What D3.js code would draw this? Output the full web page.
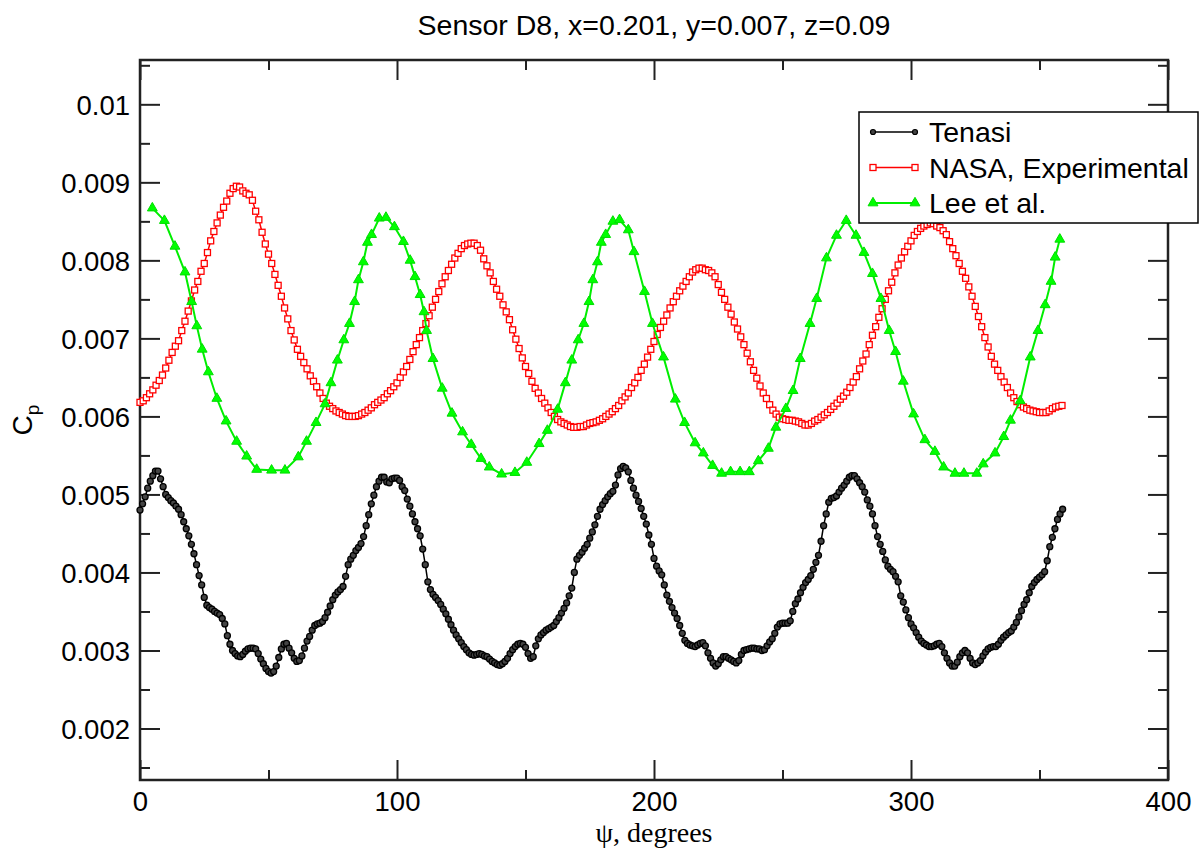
<!DOCTYPE html>
<html><head><meta charset="utf-8">
<script src="https://cdn.jsdelivr.net/npm/d3@7/dist/d3.min.js"></script>
<style>
html,body{margin:0;padding:0;background:#fff;}
svg{display:block;}
</style></head>
<body>
<script>
// ---------------- DATA ----------------
const chartTitle = "Sensor D8, x=0.201, y=0.007, z=0.09";
const xLabel = "\u03C8, degrees";
const seriesNames = ["Tenasi", "NASA, Experimental", "Lee et al."];

const xMajorTicks = [0, 100, 200, 300, 400];
const xMajorLabels = ["0", "100", "200", "300", "400"];
const xMinorTicks = [50, 150, 250, 350];
const yMajorTicks = [0.002, 0.003, 0.004, 0.005, 0.006, 0.007, 0.008, 0.009, 0.01];
const yMajorLabels = ["0.002", "0.003", "0.004", "0.005", "0.006", "0.007", "0.008", "0.009", "0.01"];
const yMinorTicks = [0.0015, 0.0025, 0.0035, 0.0045, 0.0055, 0.0065, 0.0075, 0.0085, 0.0095, 0.0105];

// Tenasi: sampled every 1 degree starting at 0
const tenasiStart = 0, tenasiStep = 1;
const tenasiCp = [
0.00480,0.00488,0.00497,0.00508,0.00517,0.00524,0.00530,0.00530,0.00520,0.00510,
0.00500,0.00496,0.00492,0.00489,0.00485,0.00481,0.00474,0.00465,0.00456,0.00447,
0.00436,0.00424,0.00410,0.00396,0.00384,0.00368,0.00358,0.00355,0.00353,0.00350,
0.00348,0.00346,0.00341,0.00334,0.00319,0.00308,0.00300,0.00296,0.00293,0.00292,
0.00295,0.00299,0.00302,0.00303,0.00303,0.00302,0.00296,0.00289,0.00283,0.00277,
0.00273,0.00271,0.00273,0.00280,0.00291,0.00302,0.00308,0.00309,0.00303,0.00297,
0.00290,0.00286,0.00287,0.00293,0.00303,0.00312,0.00318,0.00326,0.00332,0.00334,
0.00335,0.00337,0.00342,0.00349,0.00357,0.00365,0.00371,0.00375,0.00378,0.00382,
0.00395,0.00410,0.00417,0.00422,0.00428,0.00432,0.00437,0.00446,0.00460,0.00474,
0.00488,0.00499,0.00510,0.00517,0.00522,0.00522,0.00516,0.00515,0.00520,0.00521,
0.00521,0.00518,0.00510,0.00505,0.00494,0.00485,0.00475,0.00465,0.00456,0.00447,
0.00430,0.00410,0.00388,0.00378,0.00372,0.00368,0.00364,0.00359,0.00353,0.00347,
0.00340,0.00333,0.00326,0.00320,0.00315,0.00310,0.00305,0.00301,0.00297,0.00295,
0.00294,0.00295,0.00296,0.00295,0.00293,0.00292,0.00289,0.00286,0.00284,0.00282,
0.00281,0.00283,0.00286,0.00290,0.00296,0.00301,0.00305,0.00308,0.00309,0.00308,
0.00304,0.00296,0.00290,0.00292,0.00306,0.00315,0.00320,0.00323,0.00326,0.00328,
0.00330,0.00332,0.00337,0.00342,0.00348,0.00354,0.00361,0.00370,0.00380,0.00400,
0.00417,0.00422,0.00426,0.00431,0.00436,0.00444,0.00452,0.00461,0.00472,0.00481,
0.00487,0.00492,0.00497,0.00501,0.00504,0.00512,0.00525,0.00533,0.00536,0.00534,
0.00529,0.00518,0.00508,0.00499,0.00491,0.00482,0.00472,0.00462,0.00448,0.00436,
0.00418,0.00408,0.00402,0.00397,0.00384,0.00371,0.00363,0.00355,0.00348,0.00341,
0.00332,0.00322,0.00313,0.00309,0.00307,0.00306,0.00305,0.00307,0.00309,0.00310,
0.00306,0.00297,0.00290,0.00284,0.00280,0.00283,0.00288,0.00292,0.00292,0.00290,
0.00288,0.00286,0.00284,0.00287,0.00295,0.00300,0.00301,0.00302,0.00303,0.00303,
0.00302,0.00302,0.00300,0.00301,0.00306,0.00311,0.00315,0.00322,0.00330,0.00334,
0.00335,0.00335,0.00335,0.00338,0.00350,0.00360,0.00366,0.00374,0.00381,0.00387,
0.00391,0.00396,0.00404,0.00413,0.00422,0.00440,0.00460,0.00475,0.00490,0.00495,
0.00496,0.00498,0.00503,0.00508,0.00512,0.00517,0.00522,0.00524,0.00524,0.00520,
0.00515,0.00510,0.00503,0.00493,0.00485,0.00475,0.00460,0.00446,0.00436,0.00427,
0.00416,0.00408,0.00404,0.00401,0.00395,0.00388,0.00370,0.00362,0.00352,0.00342,
0.00334,0.00329,0.00323,0.00317,0.00312,0.00309,0.00307,0.00305,0.00305,0.00306,
0.00308,0.00309,0.00305,0.00297,0.00290,0.00284,0.00280,0.00280,0.00285,0.00292,
0.00297,0.00300,0.00297,0.00290,0.00284,0.00282,0.00284,0.00287,0.00293,0.00298,
0.00302,0.00304,0.00305,0.00305,0.00308,0.00313,0.00317,0.00320,0.00323,0.00325,
0.00330,0.00336,0.00343,0.00351,0.00359,0.00365,0.00374,0.00382,0.00387,0.00391,
0.00394,0.00397,0.00401,0.00415,0.00433,0.00445,0.00456,0.00468,0.00475,0.00481
];

// NASA experimental: sampled every 1.25 degrees starting at 0
const nasaStart = 0, nasaStep = 1.25;
const nasaCp = [
0.00618,0.00620,0.00624,0.00629,0.00634,0.00640,0.00646,0.00653,0.00662,0.00672,
0.00682,0.00690,0.00697,0.00710,0.00722,0.00735,0.00748,0.00762,0.00773,0.00786,
0.00796,0.00810,0.00825,0.00837,0.00848,0.00858,0.00868,0.00876,0.00886,0.00892,
0.00895,0.00894,0.00889,0.00886,0.00884,0.00877,0.00863,0.00852,0.00836,0.00821,
0.00808,0.00796,0.00782,0.00768,0.00754,0.00739,0.00725,0.00710,0.00698,0.00686,
0.00677,0.00669,0.00661,0.00652,0.00645,0.00638,0.00630,0.00623,0.00617,0.00613,
0.00610,0.00607,0.00605,0.00603,0.00601,0.00600,0.00600,0.00600,0.00601,0.00603,
0.00605,0.00608,0.00611,0.00615,0.00618,0.00621,0.00624,0.00629,0.00633,0.00638,
0.00643,0.00650,0.00657,0.00664,0.00673,0.00683,0.00692,0.00701,0.00710,0.00719,
0.00729,0.00740,0.00750,0.00760,0.00770,0.00779,0.00787,0.00795,0.00803,0.00809,
0.00815,0.00819,0.00821,0.00822,0.00822,0.00819,0.00813,0.00802,0.00793,0.00784,
0.00773,0.00763,0.00754,0.00743,0.00734,0.00724,0.00711,0.00699,0.00687,0.00675,
0.00664,0.00655,0.00645,0.00636,0.00630,0.00623,0.00617,0.00611,0.00605,0.00600,
0.00596,0.00593,0.00591,0.00589,0.00587,0.00586,0.00586,0.00587,0.00587,0.00589,
0.00591,0.00592,0.00593,0.00595,0.00597,0.00600,0.00603,0.00606,0.00610,0.00614,
0.00620,0.00625,0.00630,0.00637,0.00643,0.00650,0.00659,0.00667,0.00676,0.00686,
0.00696,0.00705,0.00714,0.00722,0.00730,0.00739,0.00747,0.00754,0.00761,0.00767,
0.00773,0.00779,0.00785,0.00788,0.00790,0.00790,0.00788,0.00787,0.00784,0.00779,
0.00769,0.00759,0.00750,0.00740,0.00731,0.00721,0.00712,0.00702,0.00692,0.00681,
0.00670,0.00659,0.00649,0.00639,0.00630,0.00623,0.00615,0.00608,0.00603,0.00599,
0.00597,0.00596,0.00595,0.00595,0.00594,0.00593,0.00591,0.00589,0.00589,0.00591,
0.00594,0.00596,0.00599,0.00602,0.00605,0.00609,0.00613,0.00617,0.00622,0.00626,
0.00631,0.00637,0.00644,0.00651,0.00661,0.00671,0.00680,0.00692,0.00704,0.00715,
0.00727,0.00738,0.00750,0.00761,0.00772,0.00784,0.00794,0.00803,0.00811,0.00818,
0.00825,0.00832,0.00837,0.00841,0.00844,0.00846,0.00848,0.00847,0.00844,0.00842,
0.00838,0.00833,0.00824,0.00815,0.00806,0.00796,0.00786,0.00777,0.00766,0.00754,
0.00741,0.00728,0.00715,0.00701,0.00689,0.00677,0.00667,0.00659,0.00651,0.00644,
0.00637,0.00630,0.00624,0.00619,0.00615,0.00612,0.00610,0.00608,0.00607,0.00606,
0.00605,0.00605,0.00605,0.00607,0.00610,0.00612,0.00613,0.00614
];

const leeAngle = [
4.8,9.5,13.6,17.5,20.1,22.1,24.2,26.6,29.9,33.5,37.6,41.5,45.4,51.2,56.4,61.6,64.8,68.5,72.0,74.3,
76.8,79.3,81.5,83.5,85.0,86.9,88.5,90.1,93.1,95.7,99.0,102.5,105.1,107.0,109.0,110.5,111.5,114.0,117.6,121.4,
125.5,128.9,132.7,135.9,140.7,145.9,150.5,155.3,158.5,162.5,165.5,168.0,170.5,172.7,174.7,176.2,178.0,179.5,181.2,184.0,
186.6,190.0,192.2,196.3,199.4,203.7,208.3,211.9,216.0,219.2,222.8,226.3,229.8,233.5,237.1,240.6,244.5,247.4,251.3,254.1,
256.9,260.7,263.3,267.1,271.0,274.8,278.6,281.7,285.0,288.3,291.5,294.0,297.0,301.0,305.4,309.3,312.7,317.1,320.6,325.6,
328.1,332.7,336.1,338.7,342.5,346.4,349.4,352.2,354.5,356.1,357.9
];
const leeCp = [
0.00867,0.00851,0.00818,0.00785,0.00747,0.00716,0.00686,0.00657,0.00623,0.00594,0.00568,0.00549,0.00532,0.00531,0.00531,0.00548,0.00568,0.00592,0.00616,0.00643,
0.00672,0.00698,0.00719,0.00747,0.00775,0.00798,0.00823,0.00833,0.00854,0.00855,0.00843,0.00824,0.00800,0.00779,0.00756,0.00734,0.00710,0.00674,0.00636,0.00604,
0.00580,0.00564,0.00546,0.00535,0.00526,0.00528,0.00541,0.00565,0.00582,0.00609,0.00643,0.00672,0.00698,0.00719,0.00747,0.00775,0.00798,0.00823,0.00833,0.00850,
0.00852,0.00839,0.00811,0.00760,0.00719,0.00676,0.00622,0.00592,0.00566,0.00553,0.00537,0.00527,0.00529,0.00529,0.00529,0.00543,0.00559,0.00586,0.00610,0.00633,
0.00674,0.00719,0.00751,0.00803,0.00832,0.00851,0.00832,0.00810,0.00783,0.00751,0.00710,0.00683,0.00645,0.00603,0.00570,0.00555,0.00535,0.00527,0.00527,0.00527,
0.00539,0.00553,0.00574,0.00595,0.00620,0.00676,0.00710,0.00743,0.00773,0.00804,0.00827
];

// ---------------- LAYOUT ----------------
const W = 1201, H = 850;
const m = {left: 140, right: 1168, top: 60, bottom: 780};

const svg = d3.select("body").append("svg").attr("width", W).attr("height", H);

const x = d3.scaleLinear().domain([0, 400]).range([m.left, m.right]);
const y = d3.scaleLinear().domain([0.00134, 0.010568]).range([m.bottom, m.top]);

const tickFont = "'Liberation Sans', Arial, Helvetica, sans-serif";
const axisColor = "#222";

function styleAxis(g) {
  g.select(".domain").remove();
  g.selectAll(".tick line").attr("stroke", axisColor).attr("stroke-width", 2);
  g.selectAll(".tick text").attr("font-family", tickFont).attr("font-size", 27.5).attr("fill", "#000");
}

// Left axis (major with labels)
svg.append("g").attr("transform", `translate(${m.left},0)`)
  .call(d3.axisLeft(y).tickValues(yMajorTicks).tickSize(-20).tickPadding(10)
    .tickFormat((d, i) => yMajorLabels[i]))
  .call(styleAxis)
  .selectAll(".tick text").attr("dy", "0.36em");
svg.append("g").attr("transform", `translate(${m.left},0)`)
  .call(d3.axisLeft(y).tickValues(yMinorTicks).tickSize(-10).tickFormat(""))
  .call(styleAxis);
// Right axis
svg.append("g").attr("transform", `translate(${m.right},0)`)
  .call(d3.axisRight(y).tickValues(yMajorTicks).tickSize(-20).tickFormat(""))
  .call(styleAxis);
svg.append("g").attr("transform", `translate(${m.right},0)`)
  .call(d3.axisRight(y).tickValues(yMinorTicks).tickSize(-10).tickFormat(""))
  .call(styleAxis);
// Bottom axis
svg.append("g").attr("transform", `translate(0,${m.bottom})`)
  .call(d3.axisBottom(x).tickValues(xMajorTicks).tickSize(-20).tickPadding(10)
    .tickFormat((d, i) => xMajorLabels[i]))
  .call(styleAxis)
  .selectAll(".tick text").attr("y", 11).attr("dy", "0.71em");
svg.append("g").attr("transform", `translate(0,${m.bottom})`)
  .call(d3.axisBottom(x).tickValues(xMinorTicks).tickSize(-10).tickFormat(""))
  .call(styleAxis);
// Top axis
svg.append("g").attr("transform", `translate(0,${m.top})`)
  .call(d3.axisTop(x).tickValues(xMajorTicks).tickSize(-20).tickFormat(""))
  .call(styleAxis);
svg.append("g").attr("transform", `translate(0,${m.top})`)
  .call(d3.axisTop(x).tickValues(xMinorTicks).tickSize(-10).tickFormat(""))
  .call(styleAxis);

// Frame
svg.append("rect").attr("x", m.left).attr("y", m.top)
  .attr("width", m.right - m.left).attr("height", m.bottom - m.top)
  .attr("fill", "none").attr("stroke", axisColor).attr("stroke-width", 2.5);

// ---------------- SERIES ----------------
const tenasi = tenasiCp.map((v, i) => ({a: tenasiStart + i * tenasiStep, v}));
const nasa = nasaCp.map((v, i) => ({a: nasaStart + i * nasaStep, v}));
const lee = leeCp.map((v, i) => ({a: leeAngle[i], v}));

const line = d3.line().x(d => x(d.a)).y(d => y(d.v));

const plot = svg.append("g");

// Tenasi
plot.append("path").datum(tenasi).attr("d", line)
  .attr("fill", "none").attr("stroke", "#000").attr("stroke-width", 1.5);
plot.append("g").selectAll("circle").data(tenasi).join("circle")
  .attr("cx", d => x(d.a)).attr("cy", d => y(d.v)).attr("r", 3)
  .attr("fill", "#444").attr("stroke", "#000").attr("stroke-width", 1.3);

// NASA
plot.append("path").datum(nasa).attr("d", line)
  .attr("fill", "none").attr("stroke", "#ff0000").attr("stroke-width", 1.5);
plot.append("g").selectAll("rect").data(nasa).join("rect")
  .attr("x", d => x(d.a) - 3).attr("y", d => y(d.v) - 3)
  .attr("width", 6).attr("height", 6)
  .attr("fill", "#fff").attr("stroke", "#ff0000").attr("stroke-width", 1.3);

// Lee
const tri = d3.symbol().type(d3.symbolTriangle).size(42);
plot.append("path").datum(lee).attr("d", line)
  .attr("fill", "none").attr("stroke", "#00ee00").attr("stroke-width", 2);
plot.append("g").selectAll("path").data(lee).join("path")
  .attr("d", tri).attr("transform", d => `translate(${x(d.a)},${y(d.v)})`)
  .attr("fill", "#00ff00").attr("stroke", "#00dd00").attr("stroke-width", 1);

// ---------------- LEGEND ----------------
const lg = svg.append("g");
lg.append("rect").attr("x", 859).attr("y", 112).attr("width", 339).attr("height", 111)
  .attr("fill", "#fff").attr("stroke", "#000").attr("stroke-width", 1.5);
const rows = [132, 167.5, 203];
const lx1 = 873, lx2 = 915;
seriesNames.forEach((name, i) => {
  const yy = rows[i];
  const col = i === 0 ? "#000" : (i === 1 ? "#ff0000" : "#00ee00");
  lg.append("line").attr("x1", lx1).attr("x2", lx2).attr("y1", yy).attr("y2", yy)
    .attr("stroke", col).attr("stroke-width", i === 2 ? 2 : 1.5);
  [lx1, lx2].forEach(px => {
    if (i === 0) lg.append("circle").attr("cx", px).attr("cy", yy).attr("r", 2.5)
      .attr("fill", "#444").attr("stroke", "#000").attr("stroke-width", 1.2);
    else if (i === 1) lg.append("rect").attr("x", px - 3).attr("y", yy - 3).attr("width", 6).attr("height", 6)
      .attr("fill", "#fff").attr("stroke", "#ff0000").attr("stroke-width", 1.3);
    else lg.append("path").attr("d", tri).attr("transform", `translate(${px},${yy})`)
      .attr("fill", "#00ff00").attr("stroke", "#00dd00");
  });
  lg.append("text").attr("x", 929).attr("y", yy).attr("dy", "0.36em")
    .attr("font-family", tickFont).attr("font-size", 28.5).attr("fill", "#000").text(name);
});

// ---------------- TITLES ----------------
svg.append("text").attr("x", (m.left + m.right) / 2).attr("y", 35)
  .attr("text-anchor", "middle").attr("font-family", tickFont).attr("font-size", 28.5)
  .attr("fill", "#000").text(chartTitle);

svg.append("text").attr("x", (m.left + m.right) / 2).attr("y", 842)
  .attr("text-anchor", "middle").attr("font-family", "'Liberation Serif', 'Times New Roman', serif")
  .attr("font-size", 28).attr("fill", "#000").text(xLabel);

const yl = svg.append("text").attr("transform", "translate(32,420) rotate(-90)")
  .attr("text-anchor", "middle").attr("font-family", tickFont).attr("font-size", 28).attr("fill", "#000");
yl.append("tspan").text("C");
yl.append("tspan").attr("font-size", 19).attr("dy", 7).text("p");
</script>
</body></html>
